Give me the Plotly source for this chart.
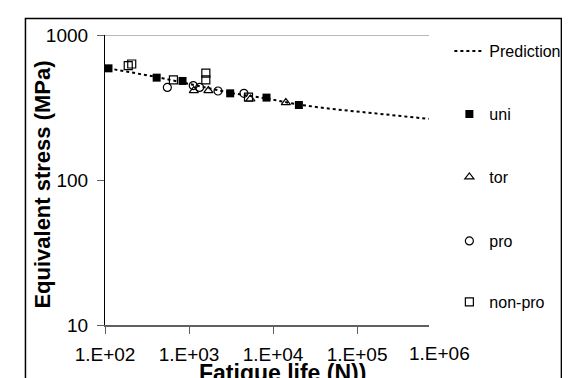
import plotly.graph_objects as go

# ---- data ----
pred_N = [110, 200, 400, 800, 1585, 3160, 7940, 20000, 50000, 126000, 316000, 713000]
pred_S = [589, 556, 515, 473, 434, 398, 367, 331, 309, 292, 275, 264]

uni_N = [110, 412, 837, 3090, 8360, 20300]
uni_S = [589, 508, 482, 396, 370, 329]

tor_N = [1140, 1700, 5370, 14200]
tor_S = [414, 414, 362, 342]

pro_N = [552, 1122, 1337, 2213, 4500]
pro_S = [435, 448, 435, 411, 396]

nonpro_N = [189, 208, 652, 1585, 1585, 5100]
nonpro_S = [615, 631, 490, 545, 490, 373]

x_tickvals = [100, 1000, 10000, 100000]
x_ticktext = ["1.E+02", "1.E+03", "1.E+04", "1.E+05"]
x_extra_text = "1.E+06"
y_tickvals = [10, 100, 1000]
y_ticktext = ["10", "100", "1000"]

FONT = "Arial, Liberation Sans, sans-serif"

# layout geometry (pixels)
L, R, T, B = 97, 139, 27, 61
PW, PH = 570 - L - R, 378 - T - B


def px_x(px):
    return (px - L) / PW


def px_y(py):
    return (378 - B - py) / PH


fig = go.Figure()
fig.add_trace(go.Scatter(x=pred_N, y=pred_S, mode="lines", name="Prediction",
                         line=dict(color="black", width=2, dash="dot"),
                         legend="legend"))
fig.add_trace(go.Scatter(x=uni_N, y=uni_S, mode="markers", name="uni",
                         marker=dict(symbol="square", size=8, color="black"),
                         legend="legend2"))
fig.add_trace(go.Scatter(x=tor_N, y=tor_S, mode="markers", name="tor",
                         marker=dict(symbol="triangle-up-open", size=8, color="black",
                                     line=dict(width=1.2)),
                         legend="legend3"))
fig.add_trace(go.Scatter(x=pro_N, y=pro_S, mode="markers", name="pro",
                         marker=dict(symbol="circle-open", size=8, color="black",
                                     line=dict(width=1.2)),
                         legend="legend4"))
fig.add_trace(go.Scatter(x=nonpro_N, y=nonpro_S, mode="markers", name="non-pro",
                         marker=dict(symbol="square-open", size=8, color="black",
                                     line=dict(width=1.2)),
                         legend="legend5"))

leg_tops = [26, 89, 152, 216, 277]
leg_common = dict(xanchor="left", yanchor="top", font=dict(size=16, family=FONT),
                  bgcolor="rgba(0,0,0,0)", x=px_x(452))

fig.update_layout(
    width=570, height=378,
    margin=dict(l=L, r=R, t=T, b=B),
    paper_bgcolor="white", plot_bgcolor="white",
    font=dict(family=FONT, color="black"),
    showlegend=True,
    legend=dict(y=px_y(leg_tops[0]), **leg_common),
    legend2=dict(y=px_y(leg_tops[1]), **leg_common),
    legend3=dict(y=px_y(leg_tops[2]), **leg_common),
    legend4=dict(y=px_y(leg_tops[3]), **leg_common),
    legend5=dict(y=px_y(leg_tops[4]), **leg_common),
    xaxis=dict(type="log", range=[2, 5.856], tickvals=x_tickvals, ticktext=x_ticktext,
               showgrid=False, zeroline=False, showline=True, linecolor="#606060",
               linewidth=1.5, mirror=False, ticks="outside", ticklen=7, tickcolor="#606060",
               tickfont=dict(size=19), automargin=False, ticklabelstandoff=4),
    yaxis=dict(type="log", range=[1, 3], tickvals=y_tickvals, ticktext=y_ticktext,
               showgrid=False, zeroline=False, showline=True, linecolor="black",
               linewidth=1.2, ticks="outside", ticklen=7, tickcolor="#606060",
               tickfont=dict(size=19), automargin=False, ticklabelstandoff=5),
)

# top line at 1000
fig.add_shape(type="line", xref="paper", yref="y", x0=0, x1=1, y0=1000, y1=1000,
              line=dict(color="#a0a0a0", width=1.5))
# outer chart border
fig.add_shape(type="rect", xref="paper", yref="paper",
              x0=px_x(15), x1=px_x(567.5), y0=px_y(400), y1=px_y(10.5),
              line=dict(color="black", width=1.5))
# extra tick label beyond the axis end
fig.add_annotation(x=px_x(441.7), xref="paper", y=0, yref="paper",
                   xanchor="center", yanchor="top", yshift=-16, text=x_extra_text,
                   showarrow=False, font=dict(size=19, family=FONT))
# axis titles
fig.add_annotation(x=px_x(280), xref="paper", y=px_y(365), yref="paper",
                   xanchor="center", yanchor="middle", showarrow=False,
                   text="<b>Fatigue life (N))</b>", font=dict(size=23, family=FONT))
fig.add_annotation(x=px_x(33), xref="paper", y=px_y(176.7), yref="paper",
                   xanchor="center", yanchor="middle", showarrow=False, textangle=-90,
                   text="<b>Equivalent stress (MPa)</b>", font=dict(size=22, family=FONT))

fig.write_html("out.html")
